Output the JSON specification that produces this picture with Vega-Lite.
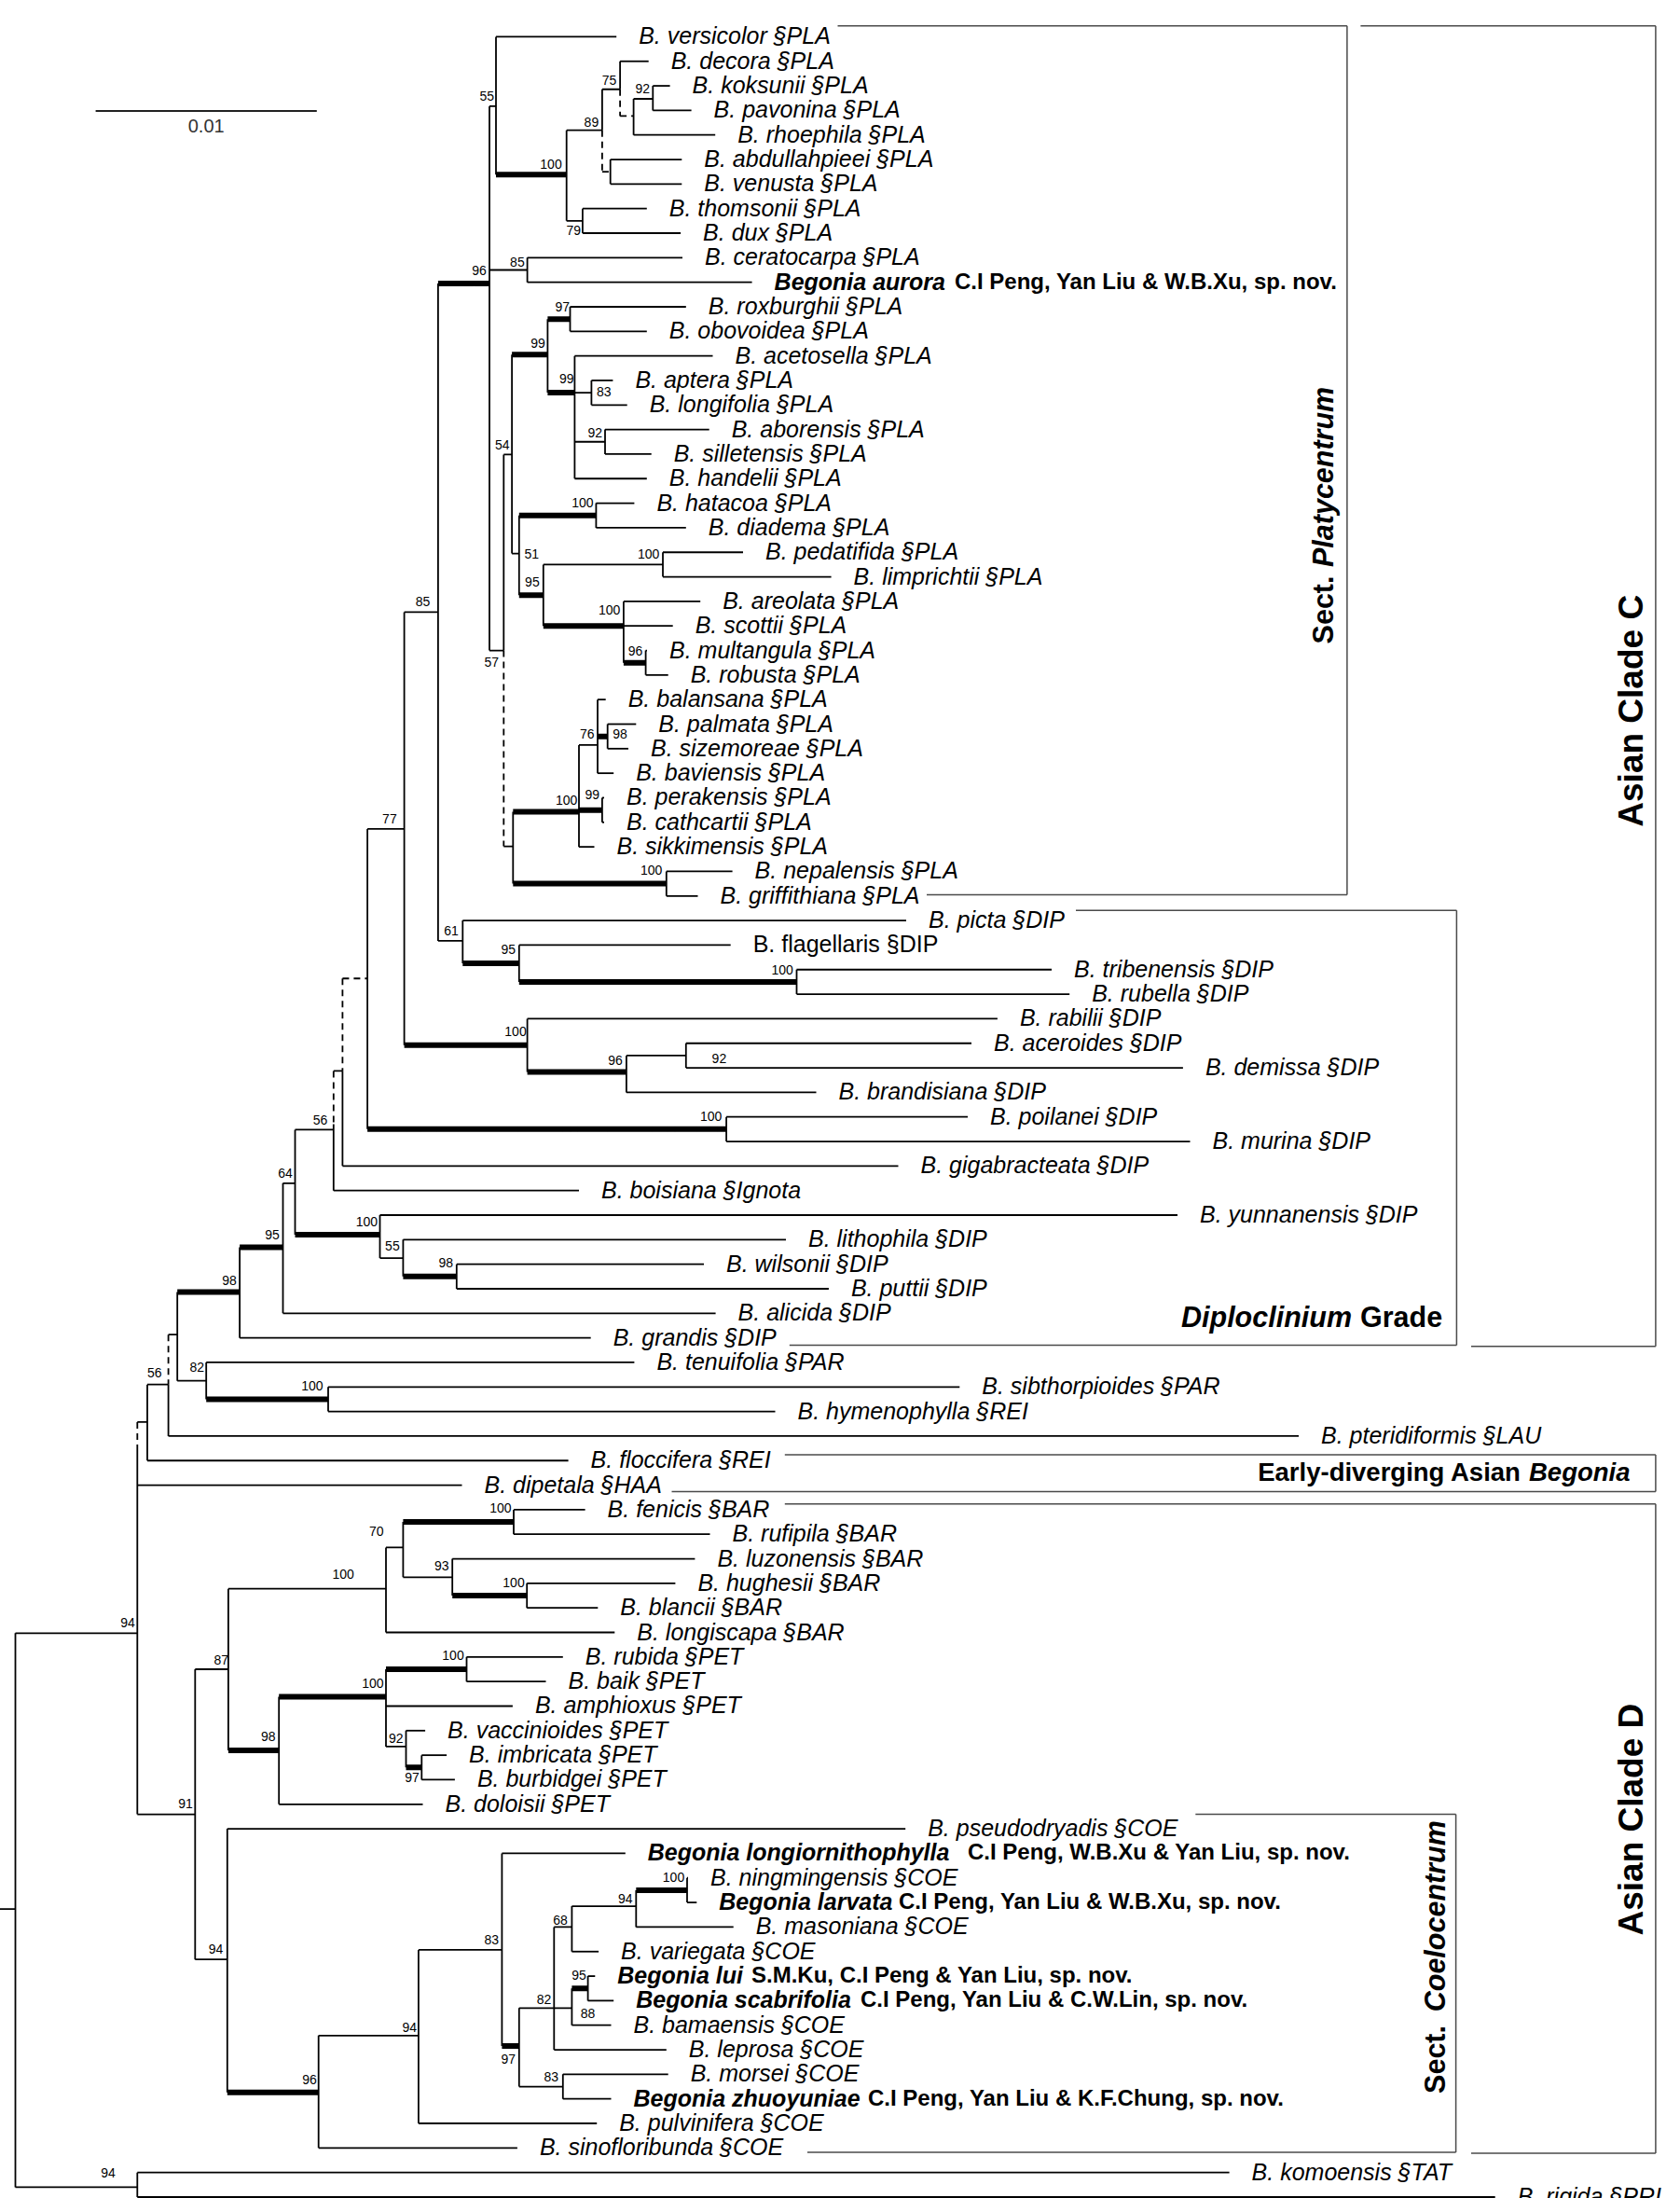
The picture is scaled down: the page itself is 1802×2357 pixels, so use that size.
{
"$schema":"https://vega.github.io/schema/vega-lite/v6.json",
"width":1802,"height":2357,
"autosize":{"type":"none"},
"padding":0,
"background":"white",
"config":{"view":{"stroke":null},"text":{"font":"Liberation Sans","color":"#000"}},
"datasets":{
"branches":[
{"x":679.6,"x2":700.3,"y":2.53,"y2":2.53,"s":"0","c":"n"},
{"x":665.1,"x2":679.6,"y":3.23,"y2":3.23,"s":"0","c":"y"},
{"x":645.9,"x2":665.1,"y":2.14,"y2":2.14,"s":"0","c":"n"},
{"x":645.9,"x2":654.7,"y":5.5,"y2":5.5,"s":"0","c":"y"},
{"x":607.7,"x2":645.9,"y":3.81,"y2":3.81,"s":"0","c":"n"},
{"x":607.7,"x2":624.9,"y":7.5,"y2":7.5,"s":"0","c":"n"},
{"x":532,"x2":607.7,"y":5.62,"y2":5.62,"s":"1","c":"n"},
{"x":525,"x2":532,"y":2.83,"y2":2.83,"s":"0","c":"n"},
{"x":525,"x2":565.6,"y":9.5,"y2":9.5,"s":"0","c":"n"},
{"x":587.4,"x2":611.5,"y":11.5,"y2":11.5,"s":"1","c":"n"},
{"x":616.4,"x2":634.4,"y":14.5,"y2":14.5,"s":"0","c":"n"},
{"x":616.4,"x2":649,"y":16.5,"y2":16.5,"s":"0","c":"n"},
{"x":587.4,"x2":616.4,"y":14.5,"y2":14.5,"s":"1","c":"n"},
{"x":549.1,"x2":587.4,"y":12.95,"y2":12.95,"s":"1","c":"n"},
{"x":556.8,"x2":639.4,"y":19.5,"y2":19.5,"s":"1","c":"n"},
{"x":582.8,"x2":711,"y":21.5,"y2":21.5,"s":"0","c":"n"},
{"x":668.9,"x2":692.6,"y":25.5,"y2":25.5,"s":"1","c":"n"},
{"x":582.8,"x2":668.9,"y":24,"y2":24,"s":"1","c":"n"},
{"x":556.8,"x2":582.8,"y":22.75,"y2":22.75,"s":"1","c":"n"},
{"x":549.1,"x2":556.8,"y":21.05,"y2":21.05,"s":"0","c":"n"},
{"x":540.3,"x2":549.1,"y":17.02,"y2":17.02,"s":"0","c":"n"},
{"x":641,"x2":651.7,"y":28.5,"y2":28.5,"s":"1","c":"n"},
{"x":621,"x2":641,"y":28.85,"y2":28.85,"s":"0","c":"n"},
{"x":621,"x2":645.9,"y":31.5,"y2":31.5,"s":"1","c":"n"},
{"x":550.3,"x2":621,"y":31.57,"y2":31.57,"s":"1","c":"n"},
{"x":550.3,"x2":714.8,"y":34.5,"y2":34.5,"s":"1","c":"n"},
{"x":540.3,"x2":550.3,"y":32.98,"y2":32.98,"s":"0","c":"n"},
{"x":525,"x2":540.3,"y":25,"y2":25,"s":"0","c":"n"},
{"x":469.9,"x2":525,"y":10.05,"y2":10.05,"s":"1","c":"n"},
{"x":556.8,"x2":854.5,"y":38.5,"y2":38.5,"s":"1","c":"n"},
{"x":496.3,"x2":556.8,"y":37.74,"y2":37.74,"s":"1","c":"n"},
{"x":469.9,"x2":496.3,"y":36.83,"y2":36.83,"s":"0","c":"n"},
{"x":433.6,"x2":469.9,"y":23.44,"y2":23.44,"s":"0","c":"n"},
{"x":671.9,"x2":735.8,"y":41.5,"y2":41.5,"s":"0","c":"n"},
{"x":565.6,"x2":671.9,"y":42.17,"y2":42.17,"s":"1","c":"n"},
{"x":433.6,"x2":565.6,"y":41.08,"y2":41.08,"s":"1","c":"n"},
{"x":394.1,"x2":433.6,"y":32.27,"y2":32.27,"s":"0","c":"n"},
{"x":394.1,"x2":779.1,"y":44.5,"y2":44.5,"s":"1","c":"n"},
{"x":367.4,"x2":394.1,"y":38.36,"y2":38.36,"s":"0","c":"y"},
{"x":357.8,"x2":367.4,"y":42.13,"y2":42.13,"s":"0","c":"n"},
{"x":316.5,"x2":357.8,"y":44.52,"y2":44.52,"s":"0","c":"n"},
{"x":432.4,"x2":489.8,"y":50.5,"y2":50.5,"s":"1","c":"n"},
{"x":407.5,"x2":432.4,"y":49.75,"y2":49.75,"s":"0","c":"n"},
{"x":316.5,"x2":407.5,"y":48.8,"y2":48.8,"s":"1","c":"n"},
{"x":303.5,"x2":316.5,"y":46.7,"y2":46.7,"s":"0","c":"n"},
{"x":257.1,"x2":303.5,"y":49.31,"y2":49.31,"s":"1","c":"n"},
{"x":190.2,"x2":257.1,"y":51.13,"y2":51.13,"s":"1","c":"n"},
{"x":221.2,"x2":352,"y":55.5,"y2":55.5,"s":"1","c":"n"},
{"x":190.2,"x2":221.2,"y":54.75,"y2":54.75,"s":"0","c":"n"},
{"x":180.6,"x2":190.2,"y":52.87,"y2":52.87,"s":"0","c":"n"},
{"x":158,"x2":180.6,"y":54.9,"y2":54.9,"s":"0","c":"n"},
{"x":147.3,"x2":158,"y":56.43,"y2":56.43,"s":"0","c":"n"},
{"x":432.4,"x2":551,"y":60.5,"y2":60.5,"s":"1","c":"n"},
{"x":485.2,"x2":565.2,"y":63.5,"y2":63.5,"s":"1","c":"n"},
{"x":432.4,"x2":485.2,"y":62.75,"y2":62.75,"s":"0","c":"n"},
{"x":414,"x2":432.4,"y":61.54,"y2":61.54,"s":"0","c":"n"},
{"x":244.9,"x2":414,"y":63.22,"y2":63.22,"s":"0","c":"n"},
{"x":414,"x2":500.5,"y":66.5,"y2":66.5,"s":"1","c":"n"},
{"x":435.5,"x2":452.3,"y":70.5,"y2":70.5,"s":"1","c":"n"},
{"x":414,"x2":435.5,"y":69.65,"y2":69.65,"s":"0","c":"n"},
{"x":299.2,"x2":414,"y":67.62,"y2":67.62,"s":"1","c":"n"},
{"x":244.9,"x2":299.2,"y":69.8,"y2":69.8,"s":"1","c":"n"},
{"x":209.3,"x2":244.9,"y":66.5,"y2":66.5,"s":"0","c":"n"},
{"x":682.3,"x2":737,"y":75.5,"y2":75.5,"s":"1","c":"n"},
{"x":613.4,"x2":682.3,"y":76.15,"y2":76.15,"s":"0","c":"n"},
{"x":594.3,"x2":613.4,"y":77,"y2":77,"s":"0","c":"n"},
{"x":613.4,"x2":630.6,"y":79.5,"y2":79.5,"s":"1","c":"n"},
{"x":556.8,"x2":613.4,"y":80.3,"y2":80.3,"s":"0","c":"n"},
{"x":556.8,"x2":603.8,"y":83.5,"y2":83.5,"s":"0","c":"n"},
{"x":538.4,"x2":556.8,"y":81.85,"y2":81.85,"s":"1","c":"n"},
{"x":448.9,"x2":538.4,"y":77.93,"y2":77.93,"s":"0","c":"n"},
{"x":341.7,"x2":448.9,"y":81.42,"y2":81.42,"s":"0","c":"n"},
{"x":243.8,"x2":341.7,"y":83.74,"y2":83.74,"s":"1","c":"n"},
{"x":209.3,"x2":243.8,"y":78.32,"y2":78.32,"s":"0","c":"n"},
{"x":147.3,"x2":209.3,"y":72.41,"y2":72.41,"s":"0","c":"n"},
{"x":16.5,"x2":147.3,"y":65.03,"y2":65.03,"s":"0","c":"n"},
{"x":16.5,"x2":147.3,"y":87.6,"y2":87.6,"s":"0","c":"n"},
{"x":0,"x2":16.5,"y":76.27,"y2":76.27,"s":"0","c":"n"},
{"x":700.3,"x2":700.3,"y":2,"y2":3,"s":"0","c":"n"},
{"x":679.6,"x2":679.6,"y":2.53,"y2":4,"s":"0","c":"n"},
{"x":665.1,"x2":665.1,"y":1,"y2":2.14,"s":"0","c":"n"},
{"x":665.1,"x2":665.1,"y":2.14,"y2":3.23,"s":"0","c":"y"},
{"x":654.7,"x2":654.7,"y":5,"y2":6,"s":"0","c":"n"},
{"x":645.9,"x2":645.9,"y":2.14,"y2":3.81,"s":"0","c":"n"},
{"x":645.9,"x2":645.9,"y":3.81,"y2":5.5,"s":"0","c":"y"},
{"x":624.9,"x2":624.9,"y":7,"y2":8,"s":"0","c":"n"},
{"x":607.7,"x2":607.7,"y":3.81,"y2":7.5,"s":"0","c":"n"},
{"x":532,"x2":532,"y":0,"y2":5.62,"s":"0","c":"n"},
{"x":565.6,"x2":565.6,"y":9,"y2":10,"s":"0","c":"n"},
{"x":611.5,"x2":611.5,"y":11,"y2":12,"s":"0","c":"n"},
{"x":634.4,"x2":634.4,"y":14,"y2":15,"s":"0","c":"n"},
{"x":649,"x2":649,"y":16,"y2":17,"s":"0","c":"n"},
{"x":616.4,"x2":616.4,"y":13,"y2":18,"s":"0","c":"n"},
{"x":587.4,"x2":587.4,"y":11.5,"y2":14.5,"s":"0","c":"n"},
{"x":639.4,"x2":639.4,"y":19,"y2":20,"s":"0","c":"n"},
{"x":711,"x2":711,"y":21,"y2":22,"s":"0","c":"n"},
{"x":692.6,"x2":692.6,"y":25,"y2":26,"s":"0","c":"n"},
{"x":668.9,"x2":668.9,"y":23,"y2":25.5,"s":"0","c":"n"},
{"x":582.8,"x2":582.8,"y":21.5,"y2":24,"s":"0","c":"n"},
{"x":556.8,"x2":556.8,"y":19.5,"y2":22.75,"s":"0","c":"n"},
{"x":549.1,"x2":549.1,"y":12.95,"y2":21.05,"s":"0","c":"n"},
{"x":651.7,"x2":651.7,"y":28,"y2":29,"s":"0","c":"n"},
{"x":641,"x2":641,"y":27,"y2":30,"s":"0","c":"n"},
{"x":645.9,"x2":645.9,"y":31,"y2":32,"s":"0","c":"n"},
{"x":621,"x2":621,"y":28.85,"y2":33,"s":"0","c":"n"},
{"x":714.8,"x2":714.8,"y":34,"y2":35,"s":"0","c":"n"},
{"x":550.3,"x2":550.3,"y":31.57,"y2":34.5,"s":"0","c":"n"},
{"x":540.3,"x2":540.3,"y":17.02,"y2":25,"s":"0","c":"n"},
{"x":540.3,"x2":540.3,"y":25,"y2":32.98,"s":"0","c":"y"},
{"x":525,"x2":525,"y":2.83,"y2":25,"s":"0","c":"n"},
{"x":854.5,"x2":854.5,"y":38,"y2":39,"s":"0","c":"n"},
{"x":556.8,"x2":556.8,"y":37,"y2":38.5,"s":"0","c":"n"},
{"x":496.3,"x2":496.3,"y":36,"y2":37.74,"s":"0","c":"n"},
{"x":469.9,"x2":469.9,"y":10.05,"y2":36.83,"s":"0","c":"n"},
{"x":735.8,"x2":735.8,"y":41,"y2":42,"s":"0","c":"n"},
{"x":671.9,"x2":671.9,"y":41.5,"y2":43,"s":"0","c":"n"},
{"x":565.6,"x2":565.6,"y":40,"y2":42.17,"s":"0","c":"n"},
{"x":433.6,"x2":433.6,"y":23.44,"y2":41.08,"s":"0","c":"n"},
{"x":779.1,"x2":779.1,"y":44,"y2":45,"s":"0","c":"n"},
{"x":394.1,"x2":394.1,"y":32.27,"y2":44.5,"s":"0","c":"n"},
{"x":367.4,"x2":367.4,"y":38.36,"y2":42.13,"s":"0","c":"y"},
{"x":367.4,"x2":367.4,"y":42.13,"y2":46,"s":"0","c":"n"},
{"x":357.8,"x2":357.8,"y":42.13,"y2":44.3,"s":"0","c":"y"},
{"x":357.8,"x2":357.8,"y":44.3,"y2":47,"s":"0","c":"n"},
{"x":489.8,"x2":489.8,"y":50,"y2":51,"s":"0","c":"n"},
{"x":432.4,"x2":432.4,"y":49,"y2":50.5,"s":"0","c":"n"},
{"x":407.5,"x2":407.5,"y":48,"y2":49.75,"s":"0","c":"n"},
{"x":316.5,"x2":316.5,"y":44.52,"y2":48.8,"s":"0","c":"n"},
{"x":303.5,"x2":303.5,"y":46.7,"y2":52,"s":"0","c":"n"},
{"x":257.1,"x2":257.1,"y":49.31,"y2":53,"s":"0","c":"n"},
{"x":352,"x2":352,"y":55,"y2":56,"s":"0","c":"n"},
{"x":221.2,"x2":221.2,"y":54,"y2":55.5,"s":"0","c":"n"},
{"x":190.2,"x2":190.2,"y":51.13,"y2":54.75,"s":"0","c":"n"},
{"x":180.6,"x2":180.6,"y":52.87,"y2":54.9,"s":"0","c":"y"},
{"x":180.6,"x2":180.6,"y":54.9,"y2":57,"s":"0","c":"n"},
{"x":158,"x2":158,"y":54.9,"y2":58,"s":"0","c":"n"},
{"x":147.3,"x2":147.3,"y":56.43,"y2":57.5,"s":"0","c":"y"},
{"x":147.3,"x2":147.3,"y":57.5,"y2":72.41,"s":"0","c":"n"},
{"x":551,"x2":551,"y":60,"y2":61,"s":"0","c":"n"},
{"x":565.2,"x2":565.2,"y":63,"y2":64,"s":"0","c":"n"},
{"x":485.2,"x2":485.2,"y":62,"y2":63.5,"s":"0","c":"n"},
{"x":432.4,"x2":432.4,"y":60.5,"y2":62.75,"s":"0","c":"n"},
{"x":414,"x2":414,"y":61.54,"y2":65,"s":"0","c":"n"},
{"x":500.5,"x2":500.5,"y":66,"y2":67,"s":"0","c":"n"},
{"x":452.3,"x2":452.3,"y":70,"y2":71,"s":"0","c":"n"},
{"x":435.5,"x2":435.5,"y":69,"y2":70.5,"s":"0","c":"n"},
{"x":414,"x2":414,"y":66.5,"y2":69.65,"s":"0","c":"n"},
{"x":299.2,"x2":299.2,"y":67.62,"y2":72,"s":"0","c":"n"},
{"x":244.9,"x2":244.9,"y":63.22,"y2":69.8,"s":"0","c":"n"},
{"x":737,"x2":737,"y":75,"y2":76,"s":"0","c":"n"},
{"x":682.3,"x2":682.3,"y":75.5,"y2":77,"s":"0","c":"n"},
{"x":613.4,"x2":613.4,"y":76.15,"y2":78,"s":"0","c":"n"},
{"x":630.6,"x2":630.6,"y":79,"y2":80,"s":"0","c":"n"},
{"x":613.4,"x2":613.4,"y":79.5,"y2":81,"s":"0","c":"n"},
{"x":594.3,"x2":594.3,"y":77,"y2":82,"s":"0","c":"n"},
{"x":603.8,"x2":603.8,"y":83,"y2":84,"s":"0","c":"n"},
{"x":556.8,"x2":556.8,"y":80.3,"y2":83.5,"s":"0","c":"n"},
{"x":538.4,"x2":538.4,"y":74,"y2":81.85,"s":"0","c":"n"},
{"x":448.9,"x2":448.9,"y":77.93,"y2":85,"s":"0","c":"n"},
{"x":341.7,"x2":341.7,"y":81.42,"y2":86,"s":"0","c":"n"},
{"x":243.8,"x2":243.8,"y":73,"y2":83.74,"s":"0","c":"n"},
{"x":209.3,"x2":209.3,"y":66.5,"y2":78.32,"s":"0","c":"n"},
{"x":147.3,"x2":147.3,"y":87,"y2":88,"s":"0","c":"n"},
{"x":16.5,"x2":16.5,"y":65.03,"y2":87.6,"s":"0","c":"n"}
],
"tips":[
{"label":"B. versicolor §PLA","y":0,"x":532,"x2":661.2},
{"label":"B. decora §PLA","y":1,"x":665.1,"x2":695.7},
{"label":"B. koksunii §PLA","y":2,"x":700.3,"x2":718.6},
{"label":"B. pavonina §PLA","y":3,"x":700.3,"x2":741.6},
{"label":"B. rhoephila §PLA","y":4,"x":679.6,"x2":767.2},
{"label":"B. abdullahpieei §PLA","y":5,"x":654.7,"x2":731.3},
{"label":"B. venusta §PLA","y":6,"x":654.7,"x2":731.3},
{"label":"B. thomsonii §PLA","y":7,"x":624.9,"x2":693.8},
{"label":"B. dux §PLA","y":8,"x":624.9,"x2":730.1},
{"label":"B. ceratocarpa §PLA","y":9,"x":565.6,"x2":732},
{"label":"Begonia aurora","auth":"C.I Peng, Yan Liu & W.B.Xu, sp. nov.","ax":1024,"y":10,"x":565.6,"x2":806.6},
{"label":"B. roxburghii §PLA","y":11,"x":611.5,"x2":735.8},
{"label":"B. obovoidea §PLA","y":12,"x":611.5,"x2":693.8},
{"label":"B. acetosella §PLA","y":13,"x":616.4,"x2":764.5},
{"label":"B. aptera §PLA","y":14,"x":634.4,"x2":657.4},
{"label":"B. longifolia §PLA","y":15,"x":634.4,"x2":672.7},
{"label":"B. aborensis §PLA","y":16,"x":649,"x2":760.7},
{"label":"B. silletensis §PLA","y":17,"x":649,"x2":698.7},
{"label":"B. handelii §PLA","y":18,"x":616.4,"x2":693.8},
{"label":"B. hatacoa §PLA","y":19,"x":639.4,"x2":680.4},
{"label":"B. diadema §PLA","y":20,"x":639.4,"x2":735.8},
{"label":"B. pedatifida §PLA","y":21,"x":711,"x2":797},
{"label":"B. limprichtii §PLA","y":22,"x":711,"x2":891.6},
{"label":"B. areolata §PLA","y":23,"x":668.9,"x2":751.2},
{"label":"B. scottii §PLA","y":24,"x":668.9,"x2":721.7},
{"label":"B. multangula §PLA","y":25,"x":692.6,"x2":694},
{"label":"B. robusta §PLA","y":26,"x":692.6,"x2":716.7},
{"label":"B. balansana §PLA","y":27,"x":641,"x2":649.7},
{"label":"B. palmata §PLA","y":28,"x":651.7,"x2":682.3},
{"label":"B. sizemoreae §PLA","y":29,"x":651.7,"x2":674},
{"label":"B. baviensis §PLA","y":30,"x":641,"x2":658.2},
{"label":"B. perakensis §PLA","y":31,"x":645.9,"x2":648},
{"label":"B. cathcartii §PLA","y":32,"x":645.9,"x2":648},
{"label":"B. sikkimensis §PLA","y":33,"x":621,"x2":637.5},
{"label":"B. nepalensis §PLA","y":34,"x":714.8,"x2":785.6},
{"label":"B. griffithiana §PLA","y":35,"x":714.8,"x2":748.5},
{"label":"B. picta §DIP","y":36,"x":496.3,"x2":972},
{"label":"B. flagellaris §DIP","y":37,"x":556.8,"x2":783.7},
{"label":"B. tribenensis §DIP","y":38,"x":854.5,"x2":1128},
{"label":"B. rubella §DIP","y":39,"x":854.5,"x2":1147.2},
{"label":"B. rabilii §DIP","y":40,"x":565.6,"x2":1069.9},
{"label":"B. aceroides §DIP","y":41,"x":735.8,"x2":1042},
{"label":"B. demissa §DIP","y":42,"x":735.8,"x2":1268.9},
{"label":"B. brandisiana §DIP","y":43,"x":671.9,"x2":875.5},
{"label":"B. poilanei §DIP","y":44,"x":779.1,"x2":1038},
{"label":"B. murina §DIP","y":45,"x":779.1,"x2":1276.5},
{"label":"B. gigabracteata §DIP","y":46,"x":367.4,"x2":963.5},
{"label":"B. boisiana §Ignota","y":47,"x":357.8,"x2":621},
{"label":"B. yunnanensis §DIP","y":48,"x":407.5,"x2":1263},
{"label":"B. lithophila §DIP","y":49,"x":432.4,"x2":843},
{"label":"B. wilsonii §DIP","y":50,"x":489.8,"x2":755},
{"label":"B. puttii §DIP","y":51,"x":489.8,"x2":888.9},
{"label":"B. alicida §DIP","y":52,"x":303.5,"x2":767.6},
{"label":"B. grandis §DIP","y":53,"x":257.1,"x2":633.7},
{"label":"B. tenuifolia §PAR","y":54,"x":221.2,"x2":680.4},
{"label":"B. sibthorpioides §PAR","y":55,"x":352,"x2":1029.3},
{"label":"B. hymenophylla §REI","y":56,"x":352,"x2":831.5},
{"label":"B. pteridiformis §LAU","y":57,"x":180.6,"x2":1393},
{"label":"B. floccifera §REI","y":58,"x":158,"x2":609.6},
{"label":"B. dipetala §HAA","y":59,"x":147.3,"x2":495.5},
{"label":"B. fenicis §BAR","y":60,"x":551,"x2":627.6},
{"label":"B. rufipila §BAR","y":61,"x":551,"x2":761.5},
{"label":"B. luzonensis §BAR","y":62,"x":485.2,"x2":745.4},
{"label":"B. hughesii §BAR","y":63,"x":565.2,"x2":724.4},
{"label":"B. blancii §BAR","y":64,"x":565.2,"x2":641.3},
{"label":"B. longiscapa §BAR","y":65,"x":414,"x2":659.3},
{"label":"B. rubida §PET","y":66,"x":500.5,"x2":603.8},
{"label":"B. baik §PET","y":67,"x":500.5,"x2":585.5},
{"label":"B. amphioxus §PET","y":68,"x":414,"x2":549.9},
{"label":"B. vaccinioides §PET","y":69,"x":435.5,"x2":456.1},
{"label":"B. imbricata §PET","y":70,"x":452.3,"x2":479.1},
{"label":"B. burbidgei §PET","y":71,"x":452.3,"x2":487.9},
{"label":"B. doloisii §PET","y":72,"x":299.2,"x2":453.5},
{"label":"B. pseudodryadis §COE","y":73,"x":243.8,"x2":971.2},
{"label":"Begonia longiornithophylla","auth":"C.I Peng, W.B.Xu & Yan Liu, sp. nov.","ax":1038,"y":74,"x":538.4,"x2":670.8},
{"label":"B. ningmingensis §COE","y":75,"x":737,"x2":738},
{"label":"Begonia larvata","auth":"C.I Peng, Yan Liu & W.B.Xu, sp. nov.","ax":964,"y":76,"x":737,"x2":747.3},
{"label":"B. masoniana §COE","y":77,"x":682.3,"x2":786.7},
{"label":"B. variegata §COE","y":78,"x":613.4,"x2":642.1},
{"label":"Begonia lui","auth":"S.M.Ku, C.I Peng & Yan Liu, sp. nov.","ax":806,"y":79,"x":630.6,"x2":638.3},
{"label":"Begonia scabrifolia","auth":"C.I Peng, Yan Liu & C.W.Lin, sp. nov.","ax":923,"y":80,"x":630.6,"x2":658.2},
{"label":"B. bamaensis §COE","y":81,"x":613.4,"x2":655.5},
{"label":"B. leprosa §COE","y":82,"x":594.3,"x2":714.8},
{"label":"B. morsei §COE","y":83,"x":603.8,"x2":716.7},
{"label":"Begonia zhuoyuniae","auth":"C.I Peng, Yan Liu & K.F.Chung, sp. nov.","ax":931,"y":84,"x":603.8,"x2":655.5},
{"label":"B. pulvinifera §COE","y":85,"x":448.9,"x2":640.2},
{"label":"B. sinofloribunda §COE","y":86,"x":341.7,"x2":554.9},
{"label":"B. komoensis §TAT","y":87,"x":147.3,"x2":1318.6},
{"label":"B. rigida §PRI","y":88,"x":147.3,"x2":1603.7}
],
"support":[
{"b":"55","x":522.3,"y":2.45},{"b":"100","x":591,"y":5.22},{"b":"89","x":634.4,"y":3.51},{"b":"75","x":653.6,"y":1.81},
{"b":"92","x":689.2,"y":2.14},{"b":"79","x":615.3,"y":7.94},{"b":"96","x":514,"y":9.57},{"b":"85","x":554.9,"y":9.21},
{"b":"97","x":603.3,"y":11.03},{"b":"99","x":577.1,"y":12.52},{"b":"99","x":607.7,"y":13.97},{"b":"83","x":647.8,"y":14.48},
{"b":"92","x":638.3,"y":16.15},{"b":"54","x":538.8,"y":16.66},{"b":"100","x":624.9,"y":19.02},{"b":"51","x":570.2,"y":21.11},
{"b":"95","x":570.9,"y":22.23},{"b":"100","x":695.7,"y":21.11},{"b":"100","x":653.6,"y":23.39},{"b":"96","x":681.5,"y":25.04},
{"b":"57","x":527.3,"y":25.51},{"b":"76","x":629.8,"y":28.45},{"b":"98","x":665.1,"y":28.45},{"b":"100","x":607.7,"y":31.13},
{"b":"99","x":635.2,"y":30.91},{"b":"100","x":698.7,"y":33.97},{"b":"85","x":453.5,"y":23.04},{"b":"61","x":484.1,"y":36.44},
{"b":"95","x":545.3,"y":37.23},{"b":"100","x":839.2,"y":38.03},{"b":"77","x":417.9,"y":31.89},{"b":"100","x":553,"y":40.57},
{"b":"96","x":660.1,"y":41.73},{"b":"92","x":771.4,"y":41.66},{"b":"100","x":762.6,"y":44.01},{"b":"56","x":343.6,"y":44.16},
{"b":"64","x":306.1,"y":46.34},{"b":"100","x":393.4,"y":48.3},{"b":"55","x":420.9,"y":49.31},{"b":"98","x":478.3,"y":49.97},
{"b":"95","x":292,"y":48.85},{"b":"98","x":246,"y":50.69},{"b":"82","x":211.2,"y":54.22},{"b":"100","x":334.8,"y":54.98},
{"b":"56","x":165.7,"y":54.44},{"b":"94","x":137,"y":64.63},{"b":"100","x":536.9,"y":59.98},{"b":"70","x":403.7,"y":60.93},
{"b":"93","x":473.7,"y":62.31},{"b":"100","x":551,"y":63.0},{"b":"100","x":368.1,"y":62.67},{"b":"87","x":237.2,"y":66.17},
{"b":"100","x":486,"y":65.95},{"b":"100","x":399.9,"y":67.11},{"b":"98","x":287.8,"y":69.29},{"b":"92","x":424.8,"y":69.36},
{"b":"97","x":442,"y":70.93},{"b":"91","x":199,"y":72.01},{"b":"94","x":231.5,"y":77.93},{"b":"83","x":527.3,"y":77.57},
{"b":"94","x":439.3,"y":81.13},{"b":"96","x":332.1,"y":83.27},{"b":"97","x":545.3,"y":82.43},{"b":"82","x":583.6,"y":79.97},
{"b":"83","x":591.2,"y":83.13},{"b":"94","x":116,"y":87.04},{"b":"100","x":722.5,"y":75.0},{"b":"94","x":670.8,"y":75.9},
{"b":"68","x":601,"y":76.77},{"b":"95","x":621,"y":78.98},{"b":"88","x":630.6,"y":80.55}
],
"frames":[
{"x":898.5,"x2":1444.9,"y":-0.44,"y2":-0.44},{"x":1444.9,"x2":1444.9,"y":-0.44,"y2":34.95},{"x":994,"x2":1444.9,"y":34.95,"y2":34.95},
{"x":1459.4,"x2":1775.9,"y":-0.44,"y2":-0.44},{"x":1775.9,"x2":1775.9,"y":-0.44,"y2":53.35},{"x":1578,"x2":1775.9,"y":53.35,"y2":53.35},
{"x":1154,"x2":1562.4,"y":35.59,"y2":35.59},{"x":1562.4,"x2":1562.4,"y":35.59,"y2":53.3},{"x":846.8,"x2":1562.4,"y":53.3,"y2":53.3},
{"x":841.8,"x2":1775.9,"y":57.76,"y2":57.76},{"x":1775.9,"x2":1775.9,"y":57.76,"y2":59.26},{"x":720.5,"x2":1775.9,"y":59.26,"y2":59.26},
{"x":841.8,"x2":1775.9,"y":59.77,"y2":59.77},{"x":1775.9,"x2":1775.9,"y":59.77,"y2":86.21},{"x":1578,"x2":1775.9,"y":86.21,"y2":86.21},
{"x":1282.3,"x2":1561.6,"y":72.41,"y2":72.41},{"x":1561.6,"x2":1561.6,"y":72.41,"y2":86.18},{"x":866,"x2":1561.6,"y":86.18,"y2":86.18}
],
"scalebar":[{"x":102.6,"x2":339.8,"y":3.02,"lx":221.2,"ly":3.67,"t":"0.01"}],
"clades":[{"t":"Asian Clade C","x":1751,"y":27.46},{"t":"Asian Clade D","x":1751,"y":72.62}],
"sectWord":[{"t":"Sect.","x":1421,"y":24.73},{"t":"Sect.","x":1540.5,"y":83.78}],
"sectName":[{"t":"Platycentrum","x":1421,"y":21.6},{"t":"Coelocentrum","x":1540.5,"y":80.45}],
"gradeName":[{"t":"Diploclinium","x":1267,"y":52.2}],
"gradeWord":[{"t":"Grade","x":1459,"y":52.2}],
"earlyWord":[{"t":"Early-diverging Asian","x":1349.2,"y":58.54}],
"earlyName":[{"t":"Begonia","x":1640,"y":58.54}]
},
"encoding":{
"x":{"field":"x","type":"quantitative","scale":{"domain":[0,1802],"nice":false,"zero":false},"axis":null},
"y":{"field":"y","type":"quantitative","scale":{"domain":[-1.4967,88.038],"nice":false,"zero":false,"reverse":true},"axis":null}
},
"layer":[
{"data":{"name":"frames"},"mark":{"type":"rule","color":"#4a4a4a","strokeWidth":1.5},
 "encoding":{"x2":{"field":"x2"},"y2":{"field":"y2"}}},
{"data":{"name":"scalebar"},"mark":{"type":"rule","color":"#222","strokeWidth":2},
 "encoding":{"x2":{"field":"x2"}}},
{"data":{"name":"scalebar"},"mark":{"type":"text","fontSize":20,"color":"#333","align":"center","baseline":"middle"},
 "encoding":{"x":{"field":"lx","type":"quantitative","scale":{"domain":[0,1802],"nice":false,"zero":false},"axis":null},
  "y":{"field":"ly","type":"quantitative","scale":{"domain":[-1.4967,88.038],"nice":false,"zero":false,"reverse":true},"axis":null},
  "text":{"field":"t"}}},
{"data":{"name":"branches"},"mark":{"type":"rule","color":"#000","strokeCap":"butt"},
 "encoding":{"x2":{"field":"x2"},"y2":{"field":"y2"},
  "strokeWidth":{"field":"s","type":"nominal","scale":{"domain":["0","1"],"range":[1.8,6]},"legend":null},
  "strokeDash":{"field":"c","type":"nominal","scale":{"domain":["n","y"],"range":[[1,0],[7,5]]},"legend":null}}},
{"data":{"name":"tips"},"mark":{"type":"rule","color":"#000","strokeWidth":1.8},
 "encoding":{"x2":{"field":"x2"}}},
{"data":{"name":"tips"},"transform":[{"filter":"!datum.auth && datum.label !== 'B. flagellaris §DIP'"}],
 "mark":{"type":"text","align":"left","baseline":"middle","dx":24,"fontSize":25,"fontStyle":"italic"},
 "encoding":{"x":{"field":"x2","type":"quantitative","scale":{"domain":[0,1802],"nice":false,"zero":false},"axis":null},"text":{"field":"label"}}},
{"data":{"name":"tips"},"transform":[{"filter":"datum.label === 'B. flagellaris §DIP'"}],
 "mark":{"type":"text","align":"left","baseline":"middle","dx":24,"fontSize":25},
 "encoding":{"x":{"field":"x2","type":"quantitative","scale":{"domain":[0,1802],"nice":false,"zero":false},"axis":null},"text":{"field":"label"}}},
{"data":{"name":"tips"},"transform":[{"filter":"datum.auth"}],
 "mark":{"type":"text","align":"left","baseline":"middle","dx":24,"fontSize":25,"fontStyle":"italic","fontWeight":"bold"},
 "encoding":{"x":{"field":"x2","type":"quantitative","scale":{"domain":[0,1802],"nice":false,"zero":false},"axis":null},"text":{"field":"label"}}},
{"data":{"name":"tips"},"transform":[{"filter":"datum.auth"}],
 "mark":{"type":"text","align":"left","baseline":"middle","fontSize":24,"fontWeight":"bold"},
 "encoding":{"x":{"field":"ax","type":"quantitative","scale":{"domain":[0,1802],"nice":false,"zero":false},"axis":null},"text":{"field":"auth"}}},
{"data":{"name":"support"},"mark":{"type":"text","align":"center","baseline":"middle","fontSize":14},
 "encoding":{"text":{"field":"b"}}},
{"data":{"name":"clades"},"mark":{"type":"text","align":"center","baseline":"middle","fontSize":37,"fontWeight":"bold","angle":270},
 "encoding":{"text":{"field":"t"}}},
{"data":{"name":"sectWord"},"mark":{"type":"text","align":"left","baseline":"middle","fontSize":30.5,"fontWeight":"bold","angle":270},
 "encoding":{"text":{"field":"t"}}},
{"data":{"name":"sectName"},"mark":{"type":"text","align":"left","baseline":"middle","fontSize":30.5,"fontWeight":"bold","fontStyle":"italic","angle":270},
 "encoding":{"text":{"field":"t"}}},
{"data":{"name":"gradeName"},"mark":{"type":"text","align":"left","baseline":"middle","fontSize":30.5,"fontWeight":"bold","fontStyle":"italic"},
 "encoding":{"text":{"field":"t"}}},
{"data":{"name":"gradeWord"},"mark":{"type":"text","align":"left","baseline":"middle","fontSize":30.5,"fontWeight":"bold"},
 "encoding":{"text":{"field":"t"}}},
{"data":{"name":"earlyWord"},"mark":{"type":"text","align":"left","baseline":"middle","fontSize":27.5,"fontWeight":"bold"},
 "encoding":{"text":{"field":"t"}}},
{"data":{"name":"earlyName"},"mark":{"type":"text","align":"left","baseline":"middle","fontSize":27.5,"fontWeight":"bold","fontStyle":"italic"},
 "encoding":{"text":{"field":"t"}}}
]
}
